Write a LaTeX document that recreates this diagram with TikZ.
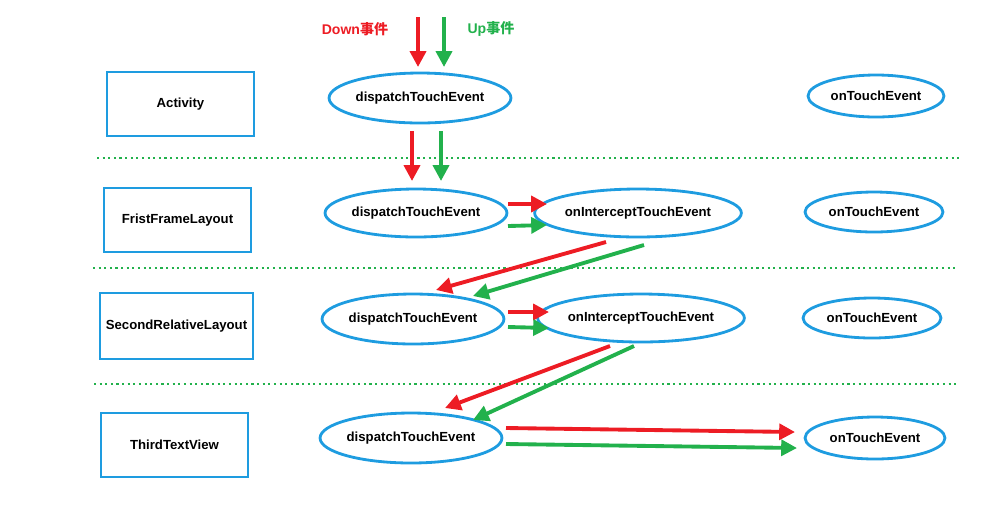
\documentclass[tikz,border=0pt]{standalone}
\usepackage{fontspec}
\setmainfont{Liberation Sans}
\newfontfamily\cjk{Noto Sans CJK SC}
\usetikzlibrary{arrows.meta,shapes.geometric}
\definecolor{cred}{HTML}{ED1C24}
\definecolor{cgreen}{HTML}{22B14C}
\definecolor{cblue}{HTML}{1E9CE0}
\begin{document}
\begin{tikzpicture}[x=0.02cm,y=-0.02cm,
 box/.style={draw=cblue,line width=1.6pt,minimum width=2.94cm,minimum height=1.28cm,font=\fontsize{7.5}{9}\selectfont\bfseries},
 ell/.style={draw=cblue,line width=1.6pt,ellipse,font=\fontsize{7.5}{9}\selectfont\bfseries,inner sep=0pt},
 sep/.style={cgreen,line width=1.2pt,dotted},
 ar/.style={line width=2.2pt,-{Triangle[length=9pt,width=9pt]}},
 ra/.style={ar,cred},ga/.style={ar,cgreen}]
\useasboundingbox (0,0) rectangle (1000,505);
\node[box] (b1) at (180.5,104) {Activity};
\node[box] (b2) at (177.5,220) {FristFrameLayout};
\node[box,minimum width=3.06cm,minimum height=1.32cm] (b3) at (176.5,326) {SecondRelativeLayout};
\node[box] (b4) at (174.5,445) {ThirdTextView};
\node[ell,minimum width=3.16cm,minimum height=1.0cm] (d1) at (420,98) {dispatchTouchEvent};
\node[ell,minimum width=3.16cm,minimum height=0.96cm] (d2) at (416,213) {dispatchTouchEvent};
\node[ell,minimum width=3.16cm,minimum height=1.0cm] (d3) at (413,319) {dispatchTouchEvent};
\node[ell,minimum width=3.12cm,minimum height=1.0cm] (d4) at (411,438) {dispatchTouchEvent};
\node[ell,minimum width=3.6cm,minimum height=0.96cm] (i2) at (638,213) {onInterceptTouchEvent};
\node[ell,minimum width=3.6cm,minimum height=0.96cm] (i3) at (641,318) {onInterceptTouchEvent};
\node[ell,minimum width=2.72cm,minimum height=0.84cm] (t1) at (876,96) {onTouchEvent};
\node[ell,minimum width=2.76cm,minimum height=0.8cm] (t2) at (874,212) {onTouchEvent};
\node[ell,minimum width=2.76cm,minimum height=0.8cm] (t3) at (872,318) {onTouchEvent};
\node[ell,minimum width=2.8cm,minimum height=0.84cm] (t4) at (875,438) {onTouchEvent};
\coordinate (s1a) at (97,158); \coordinate (s1b) at (962,158);
\coordinate (s2a) at (93,268); \coordinate (s2b) at (958,268);
\coordinate (s3a) at (94,384); \coordinate (s3b) at (958,384);
\draw[sep] (s1a) -- (s1b); \draw[sep] (s2a) -- (s2b); \draw[sep] (s3a) -- (s3b);
\node[text=cred,font=\fontsize{8}{9}\selectfont\bfseries] (ld) at (355,29) {Down{\cjk 事件}};
\node[text=cgreen,font=\fontsize{8}{9}\selectfont\bfseries] (lu) at (491,29) {Up{\cjk 事件}};
\coordinate (r0a) at (418,17); \coordinate (r0b) at (418,67);
\coordinate (g0a) at (444,17); \coordinate (g0b) at (444,67);
\draw[ra] (r0a) -- (r0b); \draw[ga] (g0a) -- (g0b);
\coordinate (r1a) at (412,131); \coordinate (r1b) at (412,181);
\coordinate (g1a) at (441,131); \coordinate (g1b) at (441,181);
\draw[ra] (r1a) -- (r1b); \draw[ga] (g1a) -- (g1b);
\coordinate (r2a) at (508,204); \coordinate (r2b) at (547,204);
\coordinate (g2a) at (508,226); \coordinate (g2b) at (547,225);
\draw[ra] (r2a) -- (r2b); \draw[ga] (g2a) -- (g2b);
\coordinate (r3a) at (606,242); \coordinate (r3b) at (436,290);
\coordinate (g3a) at (644,245); \coordinate (g3b) at (473,296);
\draw[ra] (r3a) -- (r3b); \draw[ga] (g3a) -- (g3b);
\coordinate (r4a) at (508,312); \coordinate (r4b) at (549,312);
\coordinate (g4a) at (508,327); \coordinate (g4b) at (549,328);
\draw[ra] (r4a) -- (r4b); \draw[ga] (g4a) -- (g4b);
\coordinate (r5a) at (610,346); \coordinate (r5b) at (445,408);
\coordinate (g5a) at (634,346); \coordinate (g5b) at (473,420);
\draw[ra] (r5a) -- (r5b); \draw[ga] (g5a) -- (g5b);
\coordinate (r6a) at (506,428); \coordinate (r6b) at (795,432);
\coordinate (g6a) at (506,444); \coordinate (g6b) at (797,448);
\draw[ra] (r6a) -- (r6b); \draw[ga] (g6a) -- (g6b);
\end{tikzpicture}
\end{document}
